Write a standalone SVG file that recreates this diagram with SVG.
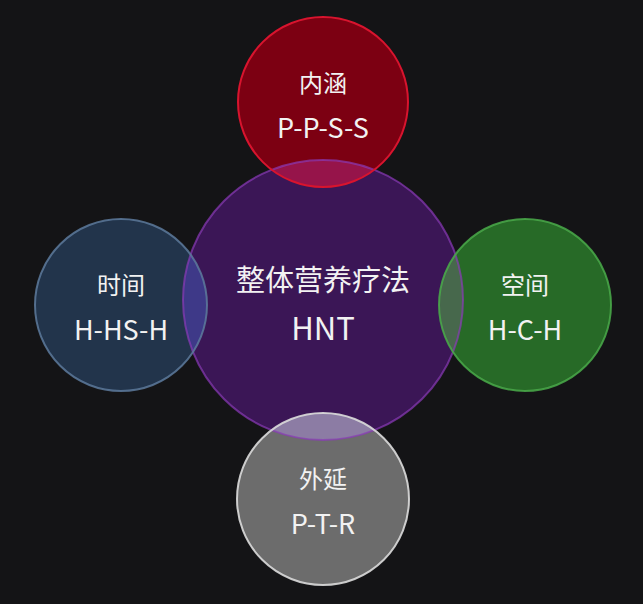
<svg xmlns="http://www.w3.org/2000/svg" width="643" height="604" viewBox="0 0 643 604">
<style>
.t{font-family:"Noto Sans CJK SC","Noto Sans",sans-serif;fill:#f2f2f2;text-anchor:middle}
.cn{font-size:24px}
.en{font-size:27px}
.big{font-size:29px}
.hnt{font-size:31px}
.s{fill:none;stroke-width:2}
</style>
<defs>
<clipPath id="cc"><circle cx="323" cy="300" r="140"/></clipPath>
</defs>
<rect width="643" height="604" fill="#141416"/>
<g id="center">
<circle cx="323" cy="300" r="140" fill="#3b1656"/>
</g>
<g id="top">
<circle cx="323" cy="102" r="85" fill="#7c0012"/>
<circle cx="323" cy="102" r="85" fill="#96144a" clip-path="url(#cc)"/>
</g>
<g id="left">
<circle cx="121" cy="305" r="86" fill="#22344b"/>
<circle cx="121" cy="305" r="86" fill="#3e3988" clip-path="url(#cc)"/>
</g>
<g id="right">
<circle cx="525" cy="305" r="86" fill="#276a27"/>
<circle cx="525" cy="305" r="86" fill="#47684c" clip-path="url(#cc)"/>
</g>
<g id="bottom">
<circle cx="323" cy="499" r="86" fill="#6c6c6c"/>
<circle cx="323" cy="499" r="86" fill="#8c7ca4" clip-path="url(#cc)"/>
</g>
<g id="outlines">
<circle class="s" cx="323" cy="300" r="140" stroke="#8a3ab8" stroke-opacity="0.7"/>
<circle class="s" cx="323" cy="102" r="85" stroke="#d8142e"/>
<circle class="s" cx="121" cy="305" r="86" stroke="#5d7a9c" stroke-opacity="0.85"/>
<circle class="s" cx="525" cy="305" r="86" stroke="#4aaa4a" stroke-opacity="0.85"/>
<circle class="s" cx="323" cy="499" r="86" stroke="#dcdcdc" stroke-opacity="0.9"/>
</g>
<g id="labels">
<text class="t big" x="323" y="291">整体营养疗法</text>
<text class="t hnt" x="323" y="340">HNT</text>
<text class="t cn" x="323" y="92">内涵</text>
<text class="t en" x="323" y="138">P-P-S-S</text>
<text class="t cn" x="121" y="294">时间</text>
<text class="t en" x="121" y="340">H-HS-H</text>
<text class="t cn" x="525" y="294">空间</text>
<text class="t en" x="525" y="340">H-C-H</text>
<text class="t cn" x="323" y="488">外延</text>
<text class="t en" x="323" y="534">P-T-R</text>
</g>
<g id="connectors"></g>
</svg>
